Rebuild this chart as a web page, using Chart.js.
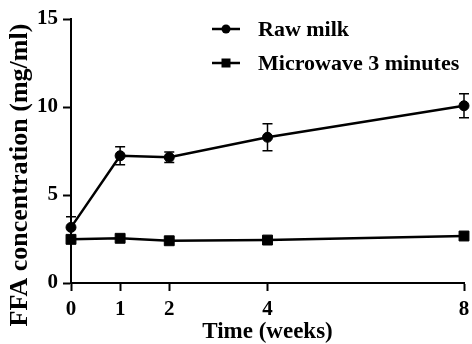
<!DOCTYPE html>
<html>
<head>
<meta charset="utf-8">
<script src="https://cdn.jsdelivr.net/npm/chart.js@4.4.1/dist/chart.umd.min.js"></script>
<style>
  html, body { margin: 0; padding: 0; background: #fff; }
  #wrap { width: 472px; height: 344px; }
</style>
</head>
<body>
<div id="wrap"><canvas id="c" width="472" height="344"></canvas></div>
<script>
// Sampling times (weeks) and FFA concentration (mg/ml)
const weeks = [0, 1, 2, 4, 8];
const rawMilk = [3.16, 7.23, 7.14, 8.28, 10.07];
const rawMilkErr = [0.60, 0.51, 0.30, 0.77, 0.68];
const microwave = [2.48, 2.54, 2.40, 2.44, 2.67];
const yTicks = [0, 5, 10, 15];
const seriesNames = ['Raw milk', 'Microwave 3 minutes'];
const xTitle = 'Time (weeks)';
const yTitle = 'FFA concentration (mg/ml)';

const FAMILY = '"Liberation Serif", "Times New Roman", serif';

function pairs(xs, ys) {
  return xs.map((x, i) => ({ x: x, y: ys[i] }));
}

// Vertical error bars with caps, taken from each dataset's `errors` array
const errorBars = {
  id: 'errorBars',
  afterDatasetsDraw(chart) {
    const ctx = chart.ctx;
    const yScale = chart.scales.y;
    chart.data.datasets.forEach((ds, di) => {
      if (!ds.errors) return;
      const meta = chart.getDatasetMeta(di);
      ctx.save();
      ctx.strokeStyle = '#000';
      ctx.lineWidth = 1.5;
      meta.data.forEach((pt, i) => {
        const v = ds.data[i].y;
        const e = ds.errors[i];
        const top = yScale.getPixelForValue(v + e);
        const bot = yScale.getPixelForValue(v - e);
        const cap = 5;
        ctx.beginPath();
        ctx.moveTo(pt.x, top); ctx.lineTo(pt.x, bot);
        ctx.moveTo(pt.x - cap, top); ctx.lineTo(pt.x + cap, top);
        ctx.moveTo(pt.x - cap, bot); ctx.lineTo(pt.x + cap, bot);
        ctx.stroke();
      });
      ctx.restore();
    });
  }
};

// Legend: short line with the series marker, then the series name
const lineLegend = {
  id: 'lineLegend',
  afterDraw(chart) {
    const ctx = chart.ctx;
    const area = chart.chartArea;
    const x0 = area.left + 141;
    const x1 = area.left + 169;
    const xm = (x0 + x1) / 2;
    ctx.save();
    chart.data.datasets.forEach((ds, i) => {
      const y = area.top + 10 + i * 34;
      ctx.strokeStyle = '#000';
      ctx.fillStyle = '#000';
      ctx.lineWidth = 2.5;
      ctx.beginPath();
      ctx.moveTo(x0, y); ctx.lineTo(x1, y);
      ctx.stroke();
      ctx.beginPath();
      if (ds.pointStyle === 'rect') {
        ctx.rect(xm - 4.5, y - 4.5, 9, 9);
      } else {
        ctx.arc(xm, y, 4.5, 0, Math.PI * 2);
      }
      ctx.fill();
      ctx.font = 'bold 22px ' + FAMILY;
      ctx.textAlign = 'left';
      ctx.textBaseline = 'middle';
      ctx.fillText(ds.label, area.left + 187, y + 1);
    });
    ctx.restore();
  }
};

// Rotated y-axis title, centred on the canvas height
const yAxisTitle = {
  id: 'yAxisTitle',
  afterDraw(chart) {
    const ctx = chart.ctx;
    ctx.save();
    ctx.translate(20, chart.height / 2 + 3);
    ctx.rotate(-Math.PI / 2);
    ctx.font = 'bold 26px ' + FAMILY;
    ctx.fillStyle = '#000';
    ctx.textAlign = 'center';
    ctx.textBaseline = 'middle';
    ctx.fillText(yTitle, 0, 0);
    ctx.restore();
  }
};

new Chart(document.getElementById('c'), {
  type: 'line',
  data: {
    datasets: [
      {
        label: seriesNames[0],
        data: pairs(weeks, rawMilk),
        errors: rawMilkErr,
        borderColor: '#000',
        backgroundColor: '#000',
        borderWidth: 2.5,
        pointStyle: 'circle',
        pointRadius: 5,
        pointBorderWidth: 1,
        pointBackgroundColor: '#000',
        pointBorderColor: '#000',
        clip: false
      },
      {
        label: seriesNames[1],
        data: pairs(weeks, microwave),
        borderColor: '#000',
        backgroundColor: '#000',
        borderWidth: 2.5,
        pointStyle: 'rect',
        pointRadius: 7,
        pointBorderWidth: 1,
        pointBackgroundColor: '#000',
        pointBorderColor: '#000',
        clip: false
      }
    ]
  },
  options: {
    responsive: false,
    animation: false,
    devicePixelRatio: 1,
    layout: { padding: { top: 19, right: 0, left: 0, bottom: 0 } },
    plugins: { legend: { display: false }, tooltip: { enabled: false } },
    scales: {
      x: {
        type: 'linear',
        min: 0,
        max: 8,
        afterBuildTicks: s => { s.ticks = weeks.map(v => ({ value: v })); },
        afterFit: s => { s.height = 61; s.paddingRight = 7; },
        grid: { drawOnChartArea: false, drawTicks: true, tickLength: 8, tickWidth: 2, tickColor: '#000' },
        border: { display: true, color: '#000', width: 2 },
        ticks: { color: '#000', font: { family: FAMILY, size: 21, weight: 'bold' }, padding: 6, maxRotation: 0, autoSkip: false },
        title: { display: true, text: xTitle, color: '#000', font: { family: FAMILY, size: 23, weight: 'bold' }, padding: { top: 0, bottom: -2 } }
      },
      y: {
        type: 'linear',
        min: 0,
        max: 15,
        afterBuildTicks: s => { s.ticks = yTicks.map(v => ({ value: v })); },
        afterFit: s => { s.width = 71; },
        grid: { drawOnChartArea: false, drawTicks: true, tickLength: 8, tickWidth: 2, tickColor: '#000' },
        border: { display: true, color: '#000', width: 2 },
        ticks: { color: '#000', font: { family: FAMILY, size: 21, weight: 'bold' }, padding: 5 },
        title: { display: false }
      }
    }
  },
  plugins: [errorBars, lineLegend, yAxisTitle]
});
</script>
</body>
</html>
